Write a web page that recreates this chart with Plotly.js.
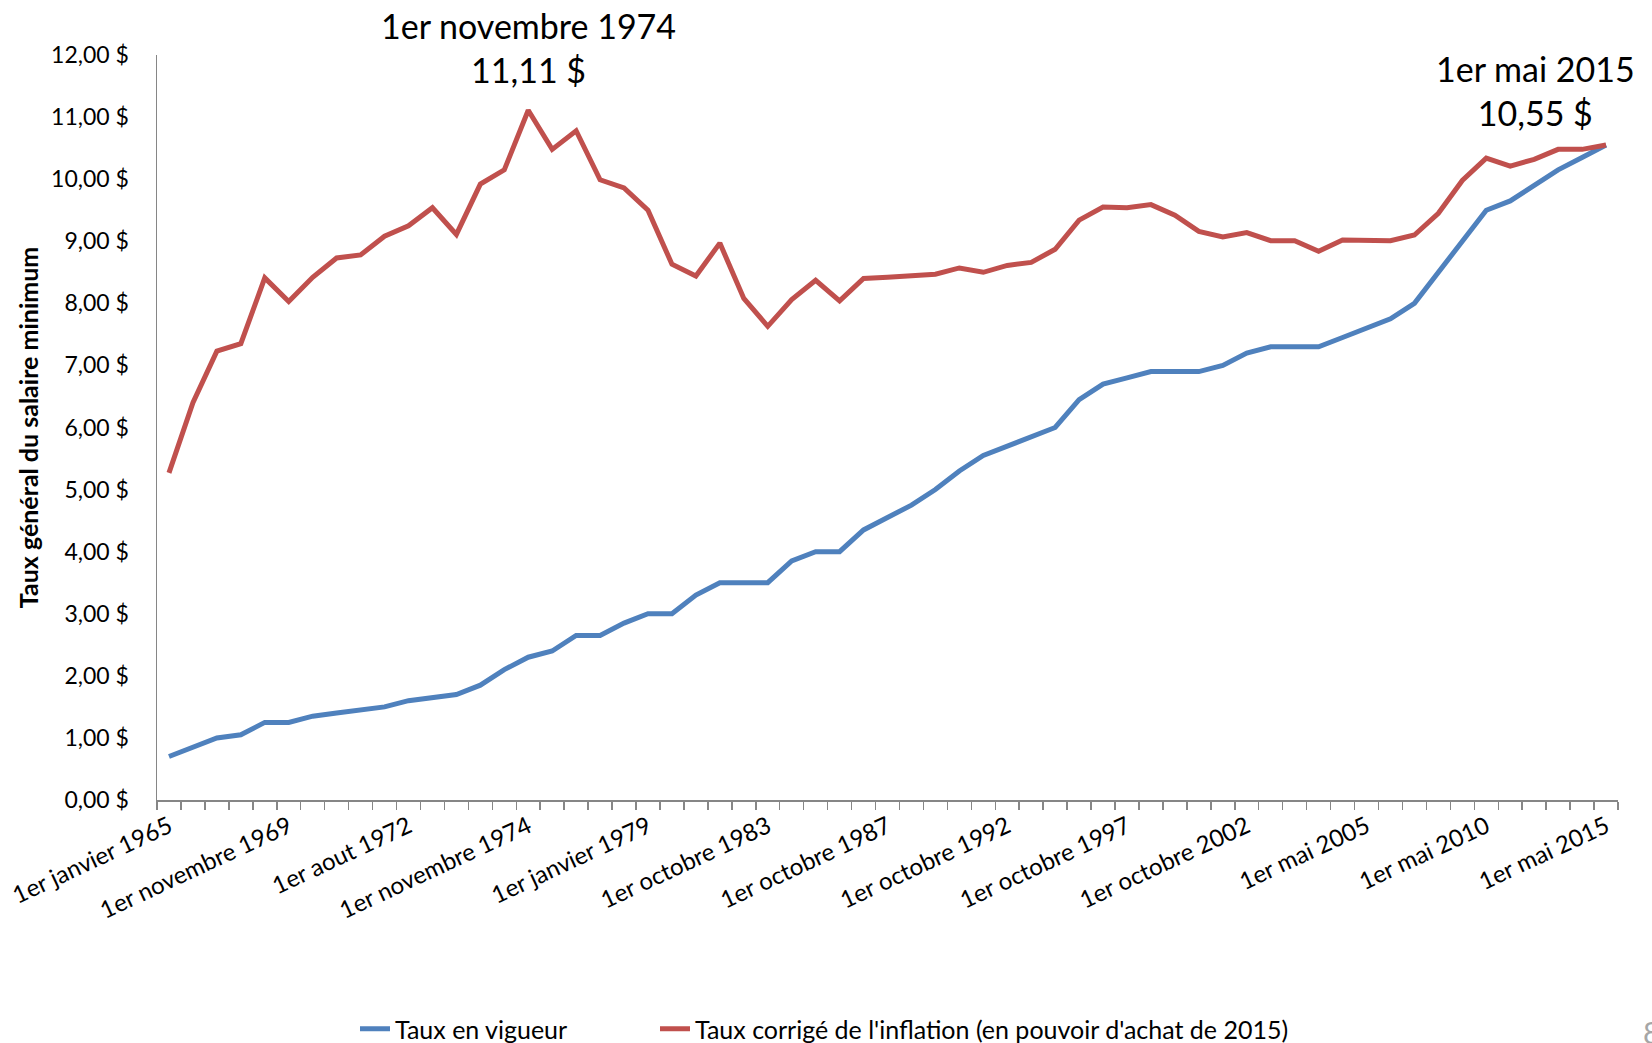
<!DOCTYPE html>
<html>
<head>
<meta charset="utf-8">
<script src="https://cdn.plot.ly/plotly-3.0.1.min.js"></script>
<style>
  html, body { margin: 0; padding: 0; background: #ffffff; }
  #chart { width: 1652px; height: 1043px; }
</style>
</head>
<body>
<div id="chart"></div>
<script>
// Tick labels shown on the category axis (one every 5 categories)
const tickLabels = [
  "1er janvier 1965", "1er novembre 1969", "1er aout 1972", "1er novembre 1974",
  "1er janvier 1979", "1er octobre 1983", "1er octobre 1987", "1er octobre 1992",
  "1er octobre 1997", "1er octobre 2002", "1er mai 2005", "1er mai 2010", "1er mai 2015"
];

// Taux en vigueur ($)
const tauxEnVigueur = [
  0.70, 0.85, 1.00, 1.05, 1.25, 1.25, 1.35, 1.40, 1.45, 1.50,
  1.60, 1.65, 1.70, 1.85, 2.10, 2.30, 2.40, 2.65, 2.65, 2.85,
  3.00, 3.00, 3.30, 3.50, 3.50, 3.50, 3.85, 4.00, 4.00, 4.35,
  4.55, 4.75, 5.00, 5.30, 5.55, 5.70, 5.85, 6.00, 6.45, 6.70,
  6.80, 6.90, 6.90, 6.90, 7.00, 7.20, 7.30, 7.30, 7.30, 7.45,
  7.60, 7.75, 8.00, 8.50, 9.00, 9.50, 9.65, 9.90, 10.15, 10.35,
  10.55
];

// Taux corrigé de l'inflation (en pouvoir d'achat de 2015) ($)
const tauxCorrige = [
  5.27, 6.40, 7.23, 7.35, 8.41, 8.03, 8.42, 8.73, 8.78, 9.08,
  9.25, 9.54, 9.11, 9.92, 10.15, 11.11, 10.48, 10.78, 9.99, 9.86,
  9.50, 8.63, 8.44, 8.97, 8.08, 7.63, 8.06, 8.37, 8.04, 8.40,
  8.42, 8.45, 8.47, 8.57, 8.50, 8.61, 8.66, 8.87, 9.34, 9.55,
  9.54, 9.59, 9.42, 9.16, 9.07, 9.14, 9.01, 9.01, 8.84, 9.02,
  9.01, 9.01, 9.10, 9.45, 9.98, 10.34, 10.21, 10.32, 10.48, 10.48,
  10.55
];

const seriesNames = ["Taux en vigueur", "Taux corrigé de l'inflation (en pouvoir d'achat de 2015)"];
const yTitle = "Taux général du salaire minimum";
const peakLabel = "1er novembre 1974<br>11,11 $";
const lastLabel = "1er mai 2015<br>10,55 $";
const pageNumber = "8";
const labelStep = 5;

const xIndex = tauxEnVigueur.map((_, i) => i);
const tickVals = tickLabels.map((_, k) => k * labelStep);
const peakIdx = tauxCorrige.indexOf(Math.max(...tauxCorrige));
const lastIdx = tauxCorrige.length - 1;

const FONT = "Lato, 'Open Sans', 'DejaVu Sans', sans-serif";

const traces = [
  {
    x: xIndex, y: tauxEnVigueur, type: "scatter", mode: "lines",
    name: seriesNames[0], legend: "legend",
    line: { color: "#4F81BD", width: 5 }
  },
  {
    x: xIndex, y: tauxCorrige, type: "scatter", mode: "lines",
    name: seriesNames[1], legend: "legend2",
    line: { color: "#C0504D", width: 5 }
  }
];

const legendCommon = {
  orientation: "h", xanchor: "left", xref: "container",
  y: 14 / 1043, yanchor: "middle", yref: "container",
  font: { family: FONT, size: 25, color: "#000000" },
  itemwidth: 30, bgcolor: "rgba(0,0,0,0)"
};

const layout = {
  width: 1652, height: 1043,
  paper_bgcolor: "#ffffff", plot_bgcolor: "#ffffff",
  separators: ", ",
  font: { family: FONT, color: "#000000", size: 22 },
  margin: { l: 157, r: 34, t: 55, b: 243 },
  showlegend: true,
  legend: Object.assign({}, legendCommon, { x: 355 / 1652 }),
  legend2: Object.assign({}, legendCommon, { x: 655 / 1652 }),
  xaxis: {
    range: [-0.5, lastIdx + 0.5],
    tickmode: "array", tickvals: tickVals, ticktext: tickLabels,
    tickangle: -25,
    ticks: "",
    tickfont: { family: FONT, size: 24, color: "#000000" },
    showline: true, linecolor: "#868686", linewidth: 1.5,
    showgrid: false, zeroline: false,
    ticklabelstandoff: 2,
    minor: { tickmode: "linear", tick0: -0.5, dtick: 1, ticks: "outside", ticklen: 8, tickwidth: 1.5, tickcolor: "#868686", showgrid: false }
  },
  yaxis: {
    range: [0, 12], dtick: 1, tick0: 0,
    tickformat: ".2f", ticksuffix: " $",
    ticks: "",
    tickfont: { family: FONT, size: 23, color: "#000000" },
    showline: true, linecolor: "#868686", linewidth: 1.5,
    showgrid: false, zeroline: false,
    ticklabelstandoff: 22,
    title: { text: "<b>" + yTitle + "</b>", font: { family: FONT, size: 25, color: "#000000" }, standoff: 5 }
  },
  annotations: [
    {
      x: peakIdx, y: tauxCorrige[peakIdx], xref: "x", yref: "y",
      text: peakLabel, showarrow: false,
      xanchor: "center", yanchor: "bottom", yshift: 18,
      font: { family: FONT, size: 34, color: "#000000" },
      align: "center"
    },
    {
      x: lastIdx, y: tauxCorrige[lastIdx], xref: "x", yref: "y",
      text: lastLabel, showarrow: false,
      xanchor: "center", yanchor: "bottom", xshift: -71, yshift: 10,
      font: { family: FONT, size: 34, color: "#000000" },
      align: "center"
    },
    {
      x: 1.0158, y: -0.311, xref: "paper", yref: "paper",
      text: pageNumber, showarrow: false, xanchor: "left", yanchor: "middle",
      font: { family: FONT, size: 30, color: "#A6A6A6" }
    }
  ]
};

Plotly.newPlot("chart", traces, layout, { displayModeBar: false, staticPlot: true });
</script>
</body>
</html>
